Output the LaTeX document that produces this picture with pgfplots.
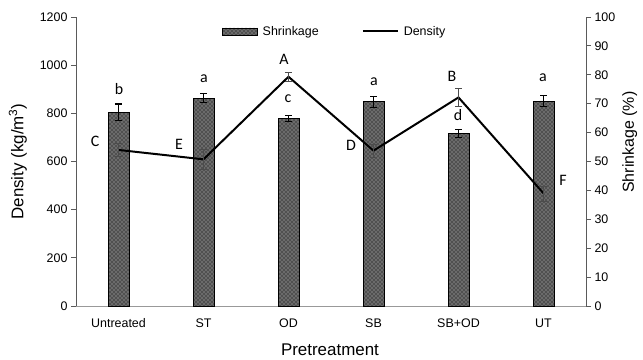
\documentclass[border=0pt]{standalone}
\usepackage{pgfplots}
\pgfplotsset{compat=1.18}
\usetikzlibrary{patterns}
\usepackage{fontspec}
\setmainfont{Liberation Sans}
\newfontfamily\calibri{Carlito}
\definecolor{barfill}{RGB}{80,80,80}
\definecolor{dotc}{RGB}{200,200,200}
\definecolor{axcol}{RGB}{90,90,90}
\pgfdeclarepatternformonly{stagdots}{\pgfqpoint{0pt}{0pt}}{\pgfqpoint{4pt}{4pt}}{\pgfqpoint{4pt}{4pt}}{%
  \pgfpathcircle{\pgfqpoint{1pt}{1pt}}{0.6pt}%
  \pgfpathcircle{\pgfqpoint{3pt}{3pt}}{0.6pt}%
  \pgfusepath{fill}}
\begin{document}
\begin{tikzpicture}
\pgfplotsset{
  common/.style={
    scale only axis, width=510bp, height=289bp,
    xmin=-0.5, xmax=5.5,
    /pgf/number format/assume math mode=true,
    /pgf/number format/1000 sep={},
    tick label style={font=\fontsize{12.5}{14}\selectfont},
    label style={font=\fontsize{17}{20}\selectfont},
    tick align=outside, major tick length=5bp,
    axis line style={axcol, line width=0.8pt},
    ytick style={axcol, line width=0.8pt},
    xtick style={draw=none},
  },
}
% ---- Shrinkage bars (right axis)
\begin{axis}[common,
  ymin=0, ymax=100,
  axis y line*=right, axis x line*=bottom,
  x axis line style={-, gray!80, line width=0.9pt},
  y axis line style={-},
  xtick={0,1,2,3,4,5},
  xticklabels={Untreated,ST,OD,SB,SB+OD,UT},
  ytick={0,10,...,100},
  ylabel={Shrinkage (\%)},
  ylabel style={at={(axis description cs:1.086,0.567)}, anchor=center, font=\fontsize{16}{19}\selectfont},
  xlabel={Pretreatment},
  xlabel style={at={(axis description cs:0.498,-0.152)}, anchor=center},
  xticklabel style={yshift=-4bp},
]
\addplot[ybar, bar width=21bp, draw=black, line width=0.8pt, fill=barfill,
  postaction={pattern=stagdots, pattern color=dotc},
  error bars/.cd, y dir=both, y explicit,
  error bar style={black, line width=1.1pt},
  error mark options={rotate=90, mark size=3.5bp, line width=1.1pt, black}]
coordinates {
  (0,67.1) +- (0,2.8)
  (1,71.9) +- (0,1.6)
  (2,64.8) +- (0,1.0)
  (3,70.7) +- (0,1.9)
  (4,59.6) +- (0,1.4)
  (5,70.9) +- (0,2.0)
};
\begin{scope}[every node/.style={font=\calibri\fontsize{16}{18}\selectfont, anchor=center, inner sep=0pt}]
\node at (axis cs:0.006,75.1) {b};
\node at (axis cs:1.006,78.5) {a};
\node at (axis cs:1.994,71.6) {c};
\node at (axis cs:3.006,77.5) {a};
\node at (axis cs:3.994,66.1) {d};
\node at (axis cs:4.994,78.9) {a};
\end{scope}
\end{axis}
% ---- Density line (left axis)
\begin{axis}[common, name=ax,
  ymin=0, ymax=1200,
  axis y line*=left, axis x line=none,
  y axis line style={-},
  xtick=\empty,
  ytick={0,200,...,1200},
  ylabel={Density (kg/m\textsuperscript{3})},
  ylabel style={at={(axis description cs:-0.114,0.5)}, anchor=center},
  legend style={at={(axis description cs:0.51,0.95)}, anchor=center, draw=none,
    fill=none, font=\fontsize{12.5}{14}\selectfont, legend columns=2,
    nodes={inner xsep=5bp},
    /tikz/every even column/.append style={column sep=38bp}},
  legend cell align=left,
]
\addlegendimage{legend image code/.code={\draw[draw=black, line width=0.8pt, fill=barfill, postaction={pattern=stagdots, pattern color=dotc}] (0bp,-3.5bp) rectangle (35bp,3.5bp);}}
\addlegendentry{Shrinkage}
\addplot[black, line width=2pt, mark=none,
  legend image code/.code={\draw[black, line width=2pt] (0bp,0bp) -- (35bp,0bp);},
  error bars/.cd, y dir=both, y explicit,
  error bar style={gray!60!black, line width=0.5pt},
  error mark options={rotate=90, mark size=3.5bp, line width=0.5pt, gray!60!black}]
coordinates {
  (0,648) +- (0,27)
  (1,609) +- (0,40)
  (2,952) +- (0,20)
  (3,645) +- (0,27)
  (4,866) +- (0,37)
  (5,468) +- (0,31)
};
\addlegendentry{Density}
\begin{scope}[every node/.style={font=\calibri\fontsize{16}{18}\selectfont, anchor=center, inner sep=0pt}]
\node at (axis cs:-0.276,685) {C};
\node at (axis cs:0.712,673) {E};
\node at (axis cs:1.947,1026) {A};
\node at (axis cs:2.735,668) {D};
\node at (axis cs:3.924,955) {B};
\node at (axis cs:5.229,523) {F};
\end{scope}
\end{axis}
\path ([shift={(-76bp,-54bp)}]ax.south west) rectangle ([shift={(57bp,17bp)}]ax.north east);
\end{tikzpicture}
\end{document}
